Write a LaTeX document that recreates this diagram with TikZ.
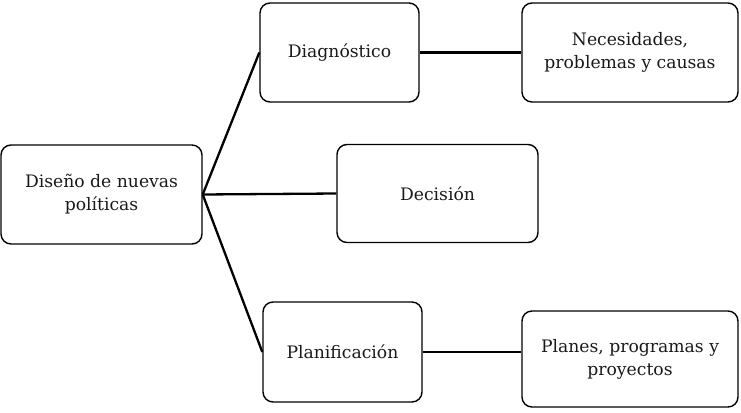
\documentclass[tikz,border=0pt]{standalone}
\usepackage{fontspec}
\setmainfont{DejaVu Serif}
\begin{document}
\begin{tikzpicture}[x=1pt,y=-1pt,
  box/.style={draw=black, line width=1.4pt, rounded corners=10pt, align=center,
    inner sep=0pt, font=\fontsize{17.2}{23}\selectfont, text=black!90},
  link/.style={draw=black, line width=2.3pt}]
\useasboundingbox (0,0) rectangle (741,412);
\node[box, minimum width=201pt, minimum height=99pt] (dis) at (101.5,194.5) {Diseño de nuevas\\políticas};
\node[box, minimum width=159pt, minimum height=99pt] (diag) at (339.5,52.5) {Diagnóstico};
\node[box, minimum width=216pt, minimum height=99pt] (nec) at (630,52.5) {Necesidades,\\problemas y causas};
\node[box, minimum width=201pt, minimum height=98pt] (dec) at (437.5,193.5) {Decisión};
\node[box, minimum width=159pt, minimum height=100pt] (plan) at (342.5,352) {Planificación};
\node[box, minimum width=216pt, minimum height=96pt] (planes) at (630,359) {Planes, programas y\\proyectos};
\draw[link] (dis.east) -- (diag.west);
\draw[link] (dis.east) -- (dec.west);
\draw[link] (dis.east) -- (plan.west);
\draw[link] (diag.east) -- (nec.west);
\draw[link] (plan.east) -- (plan.east -| planes.west);
\end{tikzpicture}
\end{document}
